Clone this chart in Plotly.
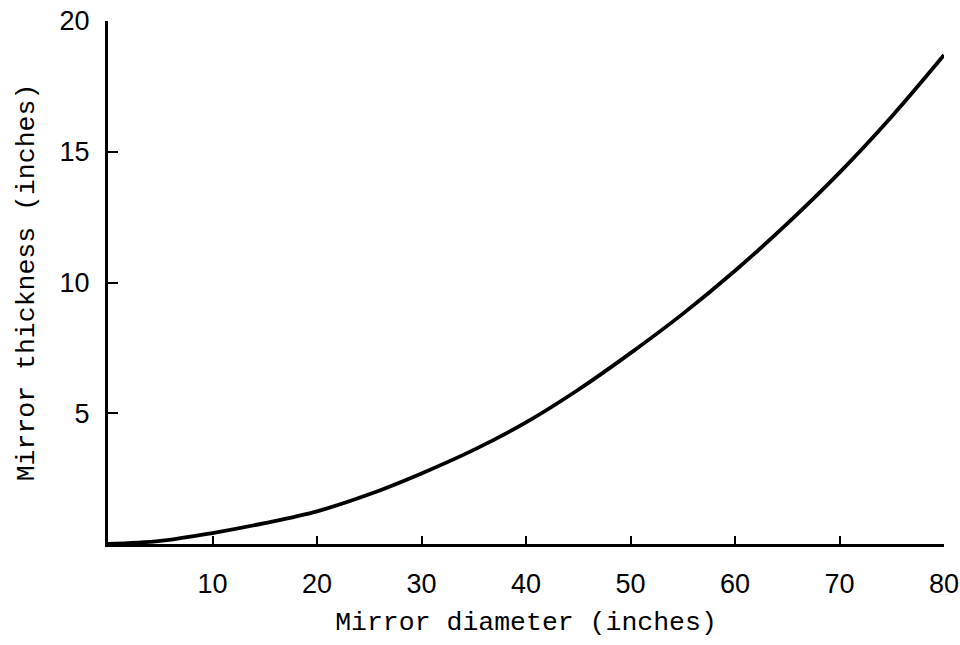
import plotly.graph_objects as go

diameter = [0, 5, 10, 15, 20, 25, 30, 35, 40, 45, 50, 55, 60, 65, 70, 75, 80]
thickness = [0, 0.12, 0.42, 0.8, 1.25, 1.9, 2.7, 3.6, 4.65, 5.9, 7.3, 8.8, 10.45, 12.25, 14.2, 16.35, 18.7]
x_ticks = [10, 20, 30, 40, 50, 60, 70, 80]
y_ticks = [5, 10, 15, 20]

fig = go.Figure()
fig.add_trace(go.Scatter(x=diameter, y=thickness, mode="lines",
                         line=dict(color="black", width=3.8, shape="spline"),
                         showlegend=False, hoverinfo="skip"))

tick_font = dict(family="Liberation Sans, Arial, sans-serif", size=27, color="black")
title_font = dict(family="Liberation Mono, Courier New, monospace", size=26.5, color="black")

fig.update_layout(
    width=960, height=645,
    margin=dict(l=108, r=16, t=21, b=101),
    plot_bgcolor="white", paper_bgcolor="white",
    xaxis=dict(range=[0, 80], tickvals=x_ticks, ticktext=[str(v) for v in x_ticks],
               ticks="inside", ticklen=8, tickwidth=2, tickcolor="black",
               showline=True, linecolor="black", linewidth=3,
               showgrid=False, zeroline=False, tickfont=tick_font,
               ticklabelstandoff=14, automargin=False, ticklabeloverflow="allow",
               title=dict(text="Mirror diameter (inches)", font=title_font, standoff=14)),
    yaxis=dict(range=[0, 20], tickvals=y_ticks, ticktext=[str(v) for v in y_ticks],
               ticks="inside", ticklen=10, tickwidth=2, tickcolor="black",
               showline=True, linecolor="black", linewidth=3,
               showgrid=False, zeroline=False, tickfont=tick_font,
               ticklabelstandoff=10, automargin=False, ticklabeloverflow="allow",
               title=dict(text="Mirror thickness (inches)", font=title_font, standoff=18)),
)

fig.write_html("out.html", config={"displayModeBar": False},
               post_script="document.body.style.margin='0';")
